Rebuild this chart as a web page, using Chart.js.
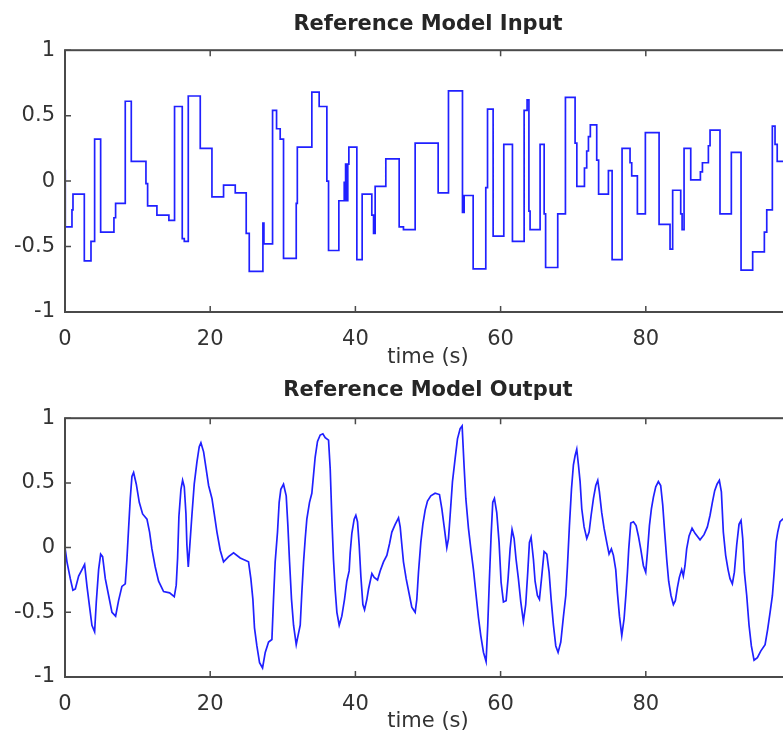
<!DOCTYPE html>
<html>
<head>
<meta charset="utf-8">
<script src="https://cdn.jsdelivr.net/npm/chart.js@4.4.1/dist/chart.umd.min.js"></script>
<style>
  html, body { margin: 0; padding: 0; background: #fff; overflow: hidden; }
  canvas { position: absolute; left: 0; }
</style>
</head>
<body>
<canvas id="input" width="800" height="372" style="top:0"></canvas>
<canvas id="output" width="800" height="372" style="top:372px"></canvas>
<script>
// step input: each level holds from its start time until the next one
const inputStart = [
  0, 0.04, 0.96, 1.1, 2.66, 3.58, 4.08, 4.91, 6.74, 6.97,
  8.3, 9.13, 11.15, 11.38, 12.66, 14.31, 15.09, 16.15, 16.43, 16.98,
  18.63, 20.24, 21.84, 23.45, 24.96, 25.38, 27.26, 27.4, 28.59, 29.14,
  29.64, 30.1, 31.85, 32.0, 34.0, 35.01, 36.07, 36.3, 37.72, 38.46,
  38.55, 38.65, 38.8, 38.95, 39.1, 40.2, 40.93, 42.26, 42.5, 42.72,
  44.19, 46.03, 46.62, 48.23, 51.4, 52.82, 54.75, 54.98, 56.22, 57.96,
  58.2, 58.97, 60.44, 61.63, 63.24, 63.65, 63.9, 64.06, 65.44, 66.0,
  66.2, 67.87, 68.93, 70.26, 70.5, 71.55, 71.86, 72.1, 72.36, 73.24,
  73.5, 74.85, 75.36, 76.73, 77.83, 78.06, 78.84, 79.94, 81.83, 83.34,
  83.7, 84.81, 85.0, 85.27, 86.19, 87.52, 87.8, 88.62, 88.85, 90.22,
  91.78, 93.12, 94.72, 96.33, 96.66, 97.43, 97.8, 98.1, 100
];
const inputLevel = [
  0.08, -0.35, -0.22, -0.1, -0.61, -0.46, 0.32, -0.39, -0.28, -0.17,
  0.61, 0.15, -0.02, -0.19, -0.26, -0.3, 0.57, -0.44, -0.46, 0.65,
  0.25, -0.12, -0.03, -0.09, -0.4, -0.69, -0.32, -0.48, 0.54, 0.4,
  0.32, -0.59, -0.17, 0.26, 0.68, 0.57, 0.0, -0.53, -0.15, -0.01,
  -0.15, 0.13, -0.15, 0.13, 0.26, -0.6, -0.1, -0.26, -0.4, -0.04,
  0.17, -0.35, -0.37, 0.29, -0.09, 0.69, -0.24, -0.11, -0.67, -0.05,
  0.55, -0.42, 0.28, -0.46, 0.54, 0.62, -0.23, -0.37, 0.28, -0.25,
  -0.66, -0.25, 0.64, 0.29, -0.04, 0.1, 0.23, 0.34, 0.43, 0.16,
  -0.1, 0.08, -0.6, 0.25, 0.14, 0.04, -0.25, 0.37, -0.33, -0.52,
  -0.07, -0.25, -0.37, 0.25, 0.01, 0.07, 0.14, 0.27, 0.39, -0.25,
  0.22, -0.68, -0.54, -0.39, -0.22, 0.42, 0.28, 0.15, 0.15
];

const outputTime = [
  0, 0.27, 0.73, 1.09, 1.42, 1.88, 2.34, 2.7, 3.03, 3.39,
  3.71, 4.08, 4.31, 4.63, 4.91, 5.18, 5.55, 6.01, 6.47, 6.97,
  7.38, 7.84, 8.3, 8.53, 8.76, 8.99, 9.22, 9.45, 9.82, 10.23,
  10.69, 11.29, 11.65, 11.97, 12.43, 12.89, 13.58, 14.41, 15.05, 15.32,
  15.51, 15.69, 15.97, 16.2, 16.43, 16.66, 16.79, 16.98, 17.16, 17.48,
  17.8, 18.17, 18.49, 18.72, 19.09, 19.41, 19.78, 20.24, 20.56, 20.93,
  21.38, 21.84, 22.53, 23.22, 24.13, 25.28, 25.6, 25.88, 26.1, 26.43,
  26.8, 27.21, 27.58, 28.04, 28.5, 28.72, 28.95, 29.27, 29.5, 29.73,
  30.1, 30.47, 30.7, 30.93, 31.2, 31.48, 31.85, 32.1, 32.4, 32.62,
  32.86, 33.09, 33.31, 33.68, 34.0, 34.23, 34.46, 34.78, 35.15, 35.52,
  35.84, 36.3, 36.53, 36.76, 36.98, 37.22, 37.45, 37.77, 38.13, 38.5,
  38.82, 39.14, 39.28, 39.51, 39.83, 40.06, 40.29, 40.52, 40.75, 41.03,
  41.26, 41.58, 41.81, 42.04, 42.27, 42.59, 43.05, 43.41, 43.87, 44.33,
  44.7, 45.02, 45.48, 45.94, 46.17, 46.4, 46.62, 46.99, 47.45, 47.77,
  48.23, 48.46, 48.69, 49.01, 49.29, 49.61, 49.93, 50.39, 50.98, 51.58,
  51.91, 52.23, 52.59, 52.82, 53.05, 53.37, 53.74, 54.06, 54.43, 54.7,
  54.98, 55.21, 55.57, 55.9, 56.26, 56.59, 56.95, 57.27, 57.64, 58.0,
  58.23, 58.46, 58.69, 58.92, 59.15, 59.47, 59.79, 60.07, 60.39, 60.76,
  61.03, 61.31, 61.58, 61.86, 62.13, 62.45, 62.78, 63.14, 63.46, 63.74,
  63.97, 64.2, 64.52, 64.75, 65.07, 65.35, 65.67, 65.99, 66.36, 66.68,
  66.96, 67.28, 67.6, 67.92, 68.29, 68.66, 68.98, 69.21, 69.48, 69.76,
  70.03, 70.26, 70.49, 70.72, 70.95, 71.18, 71.5, 71.87, 72.19, 72.47,
  72.79, 73.11, 73.38, 73.61, 73.93, 74.25, 74.62, 74.94, 75.26, 75.54,
  75.86, 76.09, 76.37, 76.69, 77.01, 77.28, 77.47, 77.65, 77.93, 78.3,
  78.66, 78.98, 79.3, 79.67, 79.99, 80.22, 80.5, 80.77, 81.05, 81.37,
  81.73, 82.05, 82.33, 82.6, 82.88, 83.15, 83.47, 83.8, 84.07, 84.35,
  84.62, 84.94, 85.17, 85.4, 85.63, 85.96, 86.37, 86.78, 87.47, 88.02,
  88.48, 88.85, 89.17, 89.49, 89.81, 90.13, 90.41, 90.68, 91.0, 91.33,
  91.6, 91.92, 92.2, 92.52, 92.84, 93.12, 93.35, 93.58, 93.9, 94.22,
  94.54, 94.91, 95.37, 95.83, 96.43, 96.79, 97.12, 97.44, 97.71, 97.94,
  98.17, 98.49, 98.86, 99.5, 100
];
const outputValue = [
  0, -0.11, -0.24, -0.33, -0.32, -0.22, -0.17, -0.13, -0.3, -0.46,
  -0.6, -0.65, -0.42, -0.17, -0.05, -0.07, -0.24, -0.37, -0.5, -0.53,
  -0.41, -0.3, -0.28, -0.09, 0.15, 0.38, 0.55, 0.58, 0.49, 0.35,
  0.26, 0.22, 0.12, -0.01, -0.15, -0.26, -0.34, -0.35, -0.38, -0.29,
  -0.08, 0.24, 0.45, 0.52, 0.47, 0.26, 0.02, -0.15, -0.01, 0.25,
  0.49, 0.66, 0.78, 0.81, 0.74, 0.62, 0.48, 0.38, 0.26, 0.12,
  -0.02, -0.11, -0.07, -0.04, -0.08, -0.11, -0.24, -0.4, -0.62, -0.76,
  -0.89, -0.93, -0.81, -0.73, -0.71, -0.4, -0.11, 0.12, 0.35, 0.45,
  0.49, 0.4, 0.17, -0.11, -0.4, -0.6, -0.75, -0.68, -0.6, -0.35,
  -0.11, 0.07, 0.22, 0.35, 0.42, 0.56, 0.7, 0.82, 0.87, 0.88,
  0.85, 0.83, 0.61, 0.22, -0.09, -0.33, -0.5, -0.6, -0.53, -0.4,
  -0.26, -0.18, -0.04, 0.11, 0.22, 0.25, 0.2, 0.02, -0.22, -0.44,
  -0.48, -0.4, -0.32, -0.26, -0.2, -0.23, -0.25, -0.18, -0.11, -0.06,
  0.03, 0.12, 0.18, 0.23, 0.16, 0.02, -0.11, -0.24, -0.37, -0.46,
  -0.5, -0.4, -0.19, 0.04, 0.18, 0.29, 0.36, 0.4, 0.42, 0.41,
  0.3, 0.16, 0.0, 0.07, 0.25, 0.51, 0.69, 0.84, 0.92, 0.94,
  0.62, 0.38, 0.15, -0.01, -0.17, -0.35, -0.54, -0.68, -0.81, -0.88,
  -0.6, -0.24, 0.09, 0.35, 0.38, 0.27, 0.04, -0.27, -0.42, -0.41,
  -0.24, -0.01, 0.14, 0.07, -0.09, -0.24, -0.42, -0.57, -0.44, -0.19,
  0.04, 0.08, -0.09, -0.26, -0.37, -0.4, -0.22, -0.03, -0.05, -0.19,
  -0.4, -0.6, -0.76, -0.81, -0.73, -0.53, -0.37, -0.14, 0.17, 0.45,
  0.64, 0.71, 0.76, 0.64, 0.51, 0.3, 0.16, 0.07, 0.12, 0.25,
  0.38, 0.48, 0.52, 0.43, 0.27, 0.15, 0.04, -0.05, -0.01, -0.06,
  -0.17, -0.35, -0.53, -0.68, -0.55, -0.35, -0.19, -0.01, 0.19, 0.2,
  0.17, 0.09, -0.01, -0.14, -0.19, -0.04, 0.17, 0.3, 0.39, 0.47,
  0.51, 0.48, 0.33, 0.12, -0.09, -0.26, -0.37, -0.44, -0.41, -0.31,
  -0.23, -0.17, -0.22, -0.14, -0.01, 0.09, 0.15, 0.11, 0.06, 0.1,
  0.16, 0.25, 0.35, 0.44, 0.49, 0.52, 0.43, 0.12, -0.06, -0.17,
  -0.24, -0.28, -0.19, 0.02, 0.18, 0.21, 0.07, -0.19, -0.37, -0.6,
  -0.76, -0.87, -0.85, -0.8, -0.75, -0.63, -0.5, -0.37, -0.17, 0.04,
  0.12, 0.2, 0.22, 0.22, 0.22
];

const timeTicks = [0, 20, 40, 60, 80, 100];
const ampTicks = [-1, -0.5, 0, 0.5, 1];

const lineBlue = '#2020ff';
const textGrey = '#333333';
const fontFamily = "'DejaVu Sans', 'Liberation Sans', sans-serif";

// matlab-like frame: box round the plot area, ticks pointing inwards
const axesBox = {
  id: 'axesBox',
  afterDatasetsDraw(chart) {
    const { ctx, chartArea: a, scales: { x, y } } = chart;
    ctx.save();
    ctx.strokeStyle = '#4a4a4a';
    ctx.lineWidth = 2;
    ctx.strokeRect(a.left, a.top, a.right - a.left, a.bottom - a.top);
    ctx.lineWidth = 1.5;
    ctx.beginPath();
    timeTicks.forEach(t => {
      const px = x.getPixelForValue(t);
      ctx.moveTo(px, a.bottom);
      ctx.lineTo(px, a.bottom - 6);
      ctx.moveTo(px, a.top);
      ctx.lineTo(px, a.top + 6);
    });
    ampTicks.forEach(v => {
      const py = y.getPixelForValue(v);
      ctx.moveTo(a.left, py);
      ctx.lineTo(a.left + 6, py);
      ctx.moveTo(a.right, py);
      ctx.lineTo(a.right - 6, py);
    });
    ctx.stroke();
    ctx.restore();
  }
};

function makePanel(id, title, times, values, stepped, box) {
  const points = times.map((t, i) => ({ x: t, y: values[i] }));
  return new Chart(document.getElementById(id), {
    type: 'line',
    data: {
      datasets: [{
        data: points,
        borderColor: lineBlue,
        borderWidth: 1.7,
        pointRadius: 0,
        fill: false,
        tension: 0,
        stepped: stepped
      }]
    },
    options: {
      responsive: false,
      animation: false,
      events: [],
      layout: { padding: { left: 0, right: 9, top: 0, bottom: 0 } },
      plugins: {
        legend: { display: false },
        tooltip: { enabled: false },
        title: {
          display: true,
          text: title,
          fullSize: false,
          color: '#262626',
          font: { family: fontFamily, size: 21, weight: 'bold' },
          padding: { top: box.titleTop, bottom: box.titleBottom }
        }
      },
      scales: {
        x: {
          type: 'linear',
          min: 0,
          max: 100,
          grid: { display: false },
          border: { display: false },
          afterBuildTicks: s => { s.ticks = timeTicks.map(v => ({ value: v })); },
          ticks: {
            padding: 7,
            maxRotation: 0,
            autoSkip: false,
            color: textGrey,
            font: { family: fontFamily, size: 21 },
            callback: v => (v === 100 ? '' : String(v))
          },
          title: {
            display: true,
            text: 'time (s)',
            color: textGrey,
            font: { family: fontFamily, size: 21 },
            padding: { top: 0, bottom: box.xTitleBottom }
          },
          afterFit: s => { s.height = box.xHeight; }
        },
        y: {
          min: -1,
          max: 1,
          grid: { display: false },
          border: { display: false },
          afterBuildTicks: s => { s.ticks = ampTicks.map(v => ({ value: v })); },
          ticks: {
            padding: 2,
            color: textGrey,
            font: { family: fontFamily, size: 21 },
            callback: v => String(v)
          },
          afterFit: s => { s.width = 65; }
        }
      }
    },
    plugins: [axesBox]
  });
}

makePanel('input', 'Reference Model Input', inputStart, inputLevel, true,
  { titleTop: 12, titleBottom: 13, xHeight: 60, xTitleBottom: 2 });
makePanel('output', 'Reference Model Output', outputTime, outputValue, false,
  { titleTop: 6, titleBottom: 15, xHeight: 67, xTitleBottom: 10 });
</script>
</body>
</html>
